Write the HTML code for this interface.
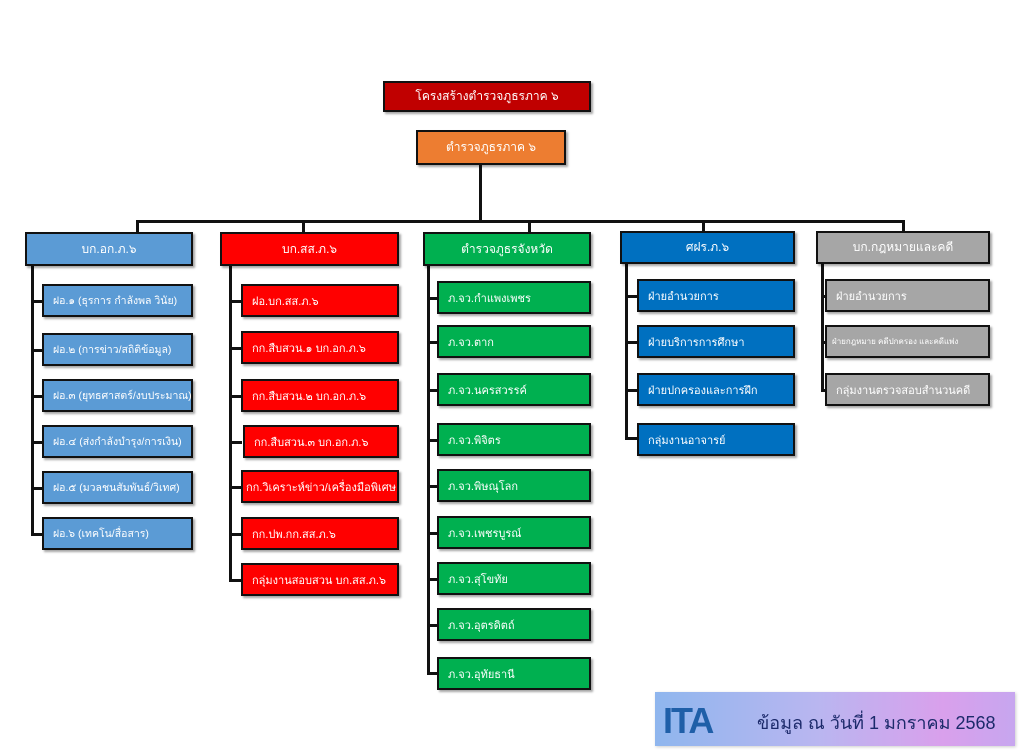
<!DOCTYPE html>
<html><head><meta charset="utf-8"><style>
body{margin:0;width:1024px;height:754px;background:#fff;position:relative;overflow:hidden;font-family:"Liberation Sans","DejaVu Sans",sans-serif;}
.b{position:absolute;box-sizing:border-box;border:2px solid #111;color:#fff;font-size:11px;display:flex;align-items:center;padding-left:9px;box-shadow:2px 2px 2px rgba(0,0,0,.35);white-space:nowrap;overflow:hidden}
.c{justify-content:center;padding-left:0;font-size:12px}
.l{position:absolute;background:#111}
.lb{background:#5b9bd5;font-size:10.5px}.rd{background:#ff0000}.gr{background:#00b050}.bl{background:#0070c0}.gy{background:#a6a6a6}
</style></head><body>
<div class="b c" style="left:383px;top:81px;width:208px;height:31px;background:#c00000">โครงสร้างตำรวจภูธรภาค ๖</div>
<div class="b c" style="left:416px;top:130px;width:150px;height:35px;background:#ed7d31">ตำรวจภูธรภาค ๖</div>
<div class="l" style="left:479px;top:165px;width:3px;height:57px"></div>
<div class="l" style="left:136px;top:220px;width:769px;height:3px"></div>
<div class="l" style="left:136px;top:220px;width:3px;height:13px"></div>
<div class="l" style="left:302px;top:220px;width:3px;height:13px"></div>
<div class="l" style="left:528px;top:220px;width:3px;height:13px"></div>
<div class="l" style="left:702px;top:220px;width:3px;height:13px"></div>
<div class="l" style="left:902px;top:220px;width:3px;height:13px"></div>

<div class="l" style="left:31px;top:265px;width:3px;height:270px"></div>
<div class="l" style="left:31px;top:300px;width:12px;height:3px"></div>
<div class="l" style="left:31px;top:349px;width:12px;height:3px"></div>
<div class="l" style="left:31px;top:395px;width:12px;height:3px"></div>
<div class="l" style="left:31px;top:441px;width:12px;height:3px"></div>
<div class="l" style="left:31px;top:487px;width:12px;height:3px"></div>
<div class="l" style="left:31px;top:533px;width:12px;height:3px"></div>
<div class="b c lb" style="left:25px;top:232px;width:168px;height:34px;font-size:12px">บก.อก.ภ.๖</div>
<div class="b lb" style="left:42px;top:284px;width:151px;height:33px">ฝอ.๑ (ธุรการ กำลังพล วินัย)</div>
<div class="b lb" style="left:42px;top:333px;width:151px;height:33px">ฝอ.๒ (การข่าว/สถิติข้อมูล)</div>
<div class="b lb" style="left:42px;top:379px;width:151px;height:33px">ฝอ.๓ (ยุทธศาสตร์/งบประมาณ)</div>
<div class="b lb" style="left:42px;top:425px;width:151px;height:33px">ฝอ.๔ (ส่งกำลังบำรุง/การเงิน)</div>
<div class="b lb" style="left:42px;top:471px;width:151px;height:33px">ฝอ.๕ (มวลชนสัมพันธ์/วิเทศ)</div>
<div class="b lb" style="left:42px;top:517px;width:151px;height:33px">ฝอ.๖ (เทคโน/สื่อสาร)</div>

<div class="l" style="left:229px;top:265px;width:3px;height:316px"></div>
<div class="l" style="left:229px;top:300px;width:13px;height:3px"></div>
<div class="l" style="left:229px;top:347px;width:13px;height:3px"></div>
<div class="l" style="left:229px;top:395px;width:13px;height:3px"></div>
<div class="l" style="left:229px;top:441px;width:13px;height:3px"></div>
<div class="l" style="left:229px;top:486px;width:13px;height:3px"></div>
<div class="l" style="left:229px;top:533px;width:13px;height:3px"></div>
<div class="l" style="left:229px;top:579px;width:13px;height:3px"></div>
<div class="b c rd" style="left:220px;top:232px;width:179px;height:34px">บก.สส.ภ.๖</div>
<div class="b rd" style="left:241px;top:284px;width:158px;height:33px">ฝอ.บก.สส.ภ.๖</div>
<div class="b rd" style="left:241px;top:331px;width:158px;height:33px">กก.สืบสวน.๑ บก.อก.ภ.๖</div>
<div class="b rd" style="left:241px;top:379px;width:158px;height:33px">กก.สืบสวน.๒ บก.อก.ภ.๖</div>
<div class="b rd" style="left:243px;top:425px;width:156px;height:33px">กก.สืบสวน.๓ บก.อก.ภ.๖</div>
<div class="b rd" style="left:241px;top:470px;width:158px;height:33px;padding-left:3px">กก.วิเคราะห์ข่าว/เครื่องมือพิเศษ</div>
<div class="b rd" style="left:241px;top:517px;width:158px;height:33px">กก.ปพ.กก.สส.ภ.๖</div>
<div class="b rd" style="left:241px;top:563px;width:158px;height:33px">กลุ่มงานสอบสวน บก.สส.ภ.๖</div>

<div class="l" style="left:427px;top:265px;width:3px;height:410px"></div>
<div class="l" style="left:427px;top:297px;width:11px;height:3px"></div>
<div class="l" style="left:427px;top:341px;width:11px;height:3px"></div>
<div class="l" style="left:427px;top:389px;width:11px;height:3px"></div>
<div class="l" style="left:427px;top:439px;width:11px;height:3px"></div>
<div class="l" style="left:427px;top:485px;width:11px;height:3px"></div>
<div class="l" style="left:427px;top:532px;width:11px;height:3px"></div>
<div class="l" style="left:427px;top:578px;width:11px;height:3px"></div>
<div class="l" style="left:427px;top:624px;width:11px;height:3px"></div>
<div class="l" style="left:427px;top:672px;width:11px;height:3px"></div>
<div class="b c gr" style="left:423px;top:232px;width:168px;height:34px">ตำรวจภูธรจังหวัด</div>
<div class="b gr" style="left:437px;top:281px;width:154px;height:33px">ภ.จว.กำแพงเพชร</div>
<div class="b gr" style="left:437px;top:325px;width:154px;height:33px">ภ.จว.ตาก</div>
<div class="b gr" style="left:437px;top:373px;width:154px;height:33px">ภ.จว.นครสวรรค์</div>
<div class="b gr" style="left:437px;top:423px;width:154px;height:33px">ภ.จว.พิจิตร</div>
<div class="b gr" style="left:437px;top:469px;width:154px;height:33px">ภ.จว.พิษณุโลก</div>
<div class="b gr" style="left:437px;top:516px;width:154px;height:33px">ภ.จว.เพชรบูรณ์</div>
<div class="b gr" style="left:437px;top:562px;width:154px;height:33px">ภ.จว.สุโขทัย</div>
<div class="b gr" style="left:437px;top:608px;width:154px;height:33px">ภ.จว.อุตรดิตถ์</div>
<div class="b gr" style="left:437px;top:657px;width:154px;height:33px">ภ.จว.อุทัยธานี</div>

<div class="l" style="left:625px;top:263px;width:3px;height:176px"></div>
<div class="l" style="left:625px;top:295px;width:12px;height:3px"></div>
<div class="l" style="left:625px;top:341px;width:12px;height:3px"></div>
<div class="l" style="left:625px;top:389px;width:12px;height:3px"></div>
<div class="l" style="left:625px;top:437px;width:12px;height:3px"></div>
<div class="b c bl" style="left:620px;top:231px;width:175px;height:33px">ศฝร.ภ.๖</div>
<div class="b bl" style="left:637px;top:279px;width:158px;height:33px">ฝ่ายอำนวยการ</div>
<div class="b bl" style="left:637px;top:325px;width:158px;height:33px">ฝ่ายบริการการศึกษา</div>
<div class="b bl" style="left:637px;top:373px;width:158px;height:33px">ฝ่ายปกครองและการฝึก</div>
<div class="b bl" style="left:637px;top:423px;width:158px;height:33px">กลุ่มงานอาจารย์</div>

<div class="l" style="left:821px;top:263px;width:3px;height:128px"></div>
<div class="l" style="left:821px;top:295px;width:5px;height:3px"></div>
<div class="l" style="left:821px;top:341px;width:5px;height:3px"></div>
<div class="l" style="left:821px;top:389px;width:5px;height:3px"></div>
<div class="b c gy" style="left:816px;top:231px;width:174px;height:33px">บก.กฎหมายและคดี</div>
<div class="b gy" style="left:825px;top:279px;width:165px;height:33px">ฝ่ายอำนวยการ</div>
<div class="b gy" style="left:825px;top:325px;width:165px;height:33px;font-size:8px;padding-left:5px">ฝ่ายกฎหมาย คดีปกครอง และคดีแพ่ง</div>
<div class="b gy" style="left:825px;top:373px;width:165px;height:33px">กลุ่มงานตรวจสอบสำนวนคดี</div>

<div style="position:absolute;left:655px;top:692px;width:360px;height:54px;background:linear-gradient(90deg,#8fb6ee 0%,#b9b6f0 45%,#d9a0ec 80%,#c7a6ef 100%);box-shadow:1px 1px 3px rgba(0,0,0,.2)">
 <div style="position:absolute;left:8px;top:8px;font:bold 36px 'Liberation Sans',sans-serif;color:#1f5fa8;letter-spacing:-2px">ITA</div>
 <div style="position:absolute;left:102px;top:16px;font-size:18px;color:#1c2a6b;white-space:nowrap">ข้อมูล ณ วันที่ 1 มกราคม 2568</div>
</div>
</body></html>
